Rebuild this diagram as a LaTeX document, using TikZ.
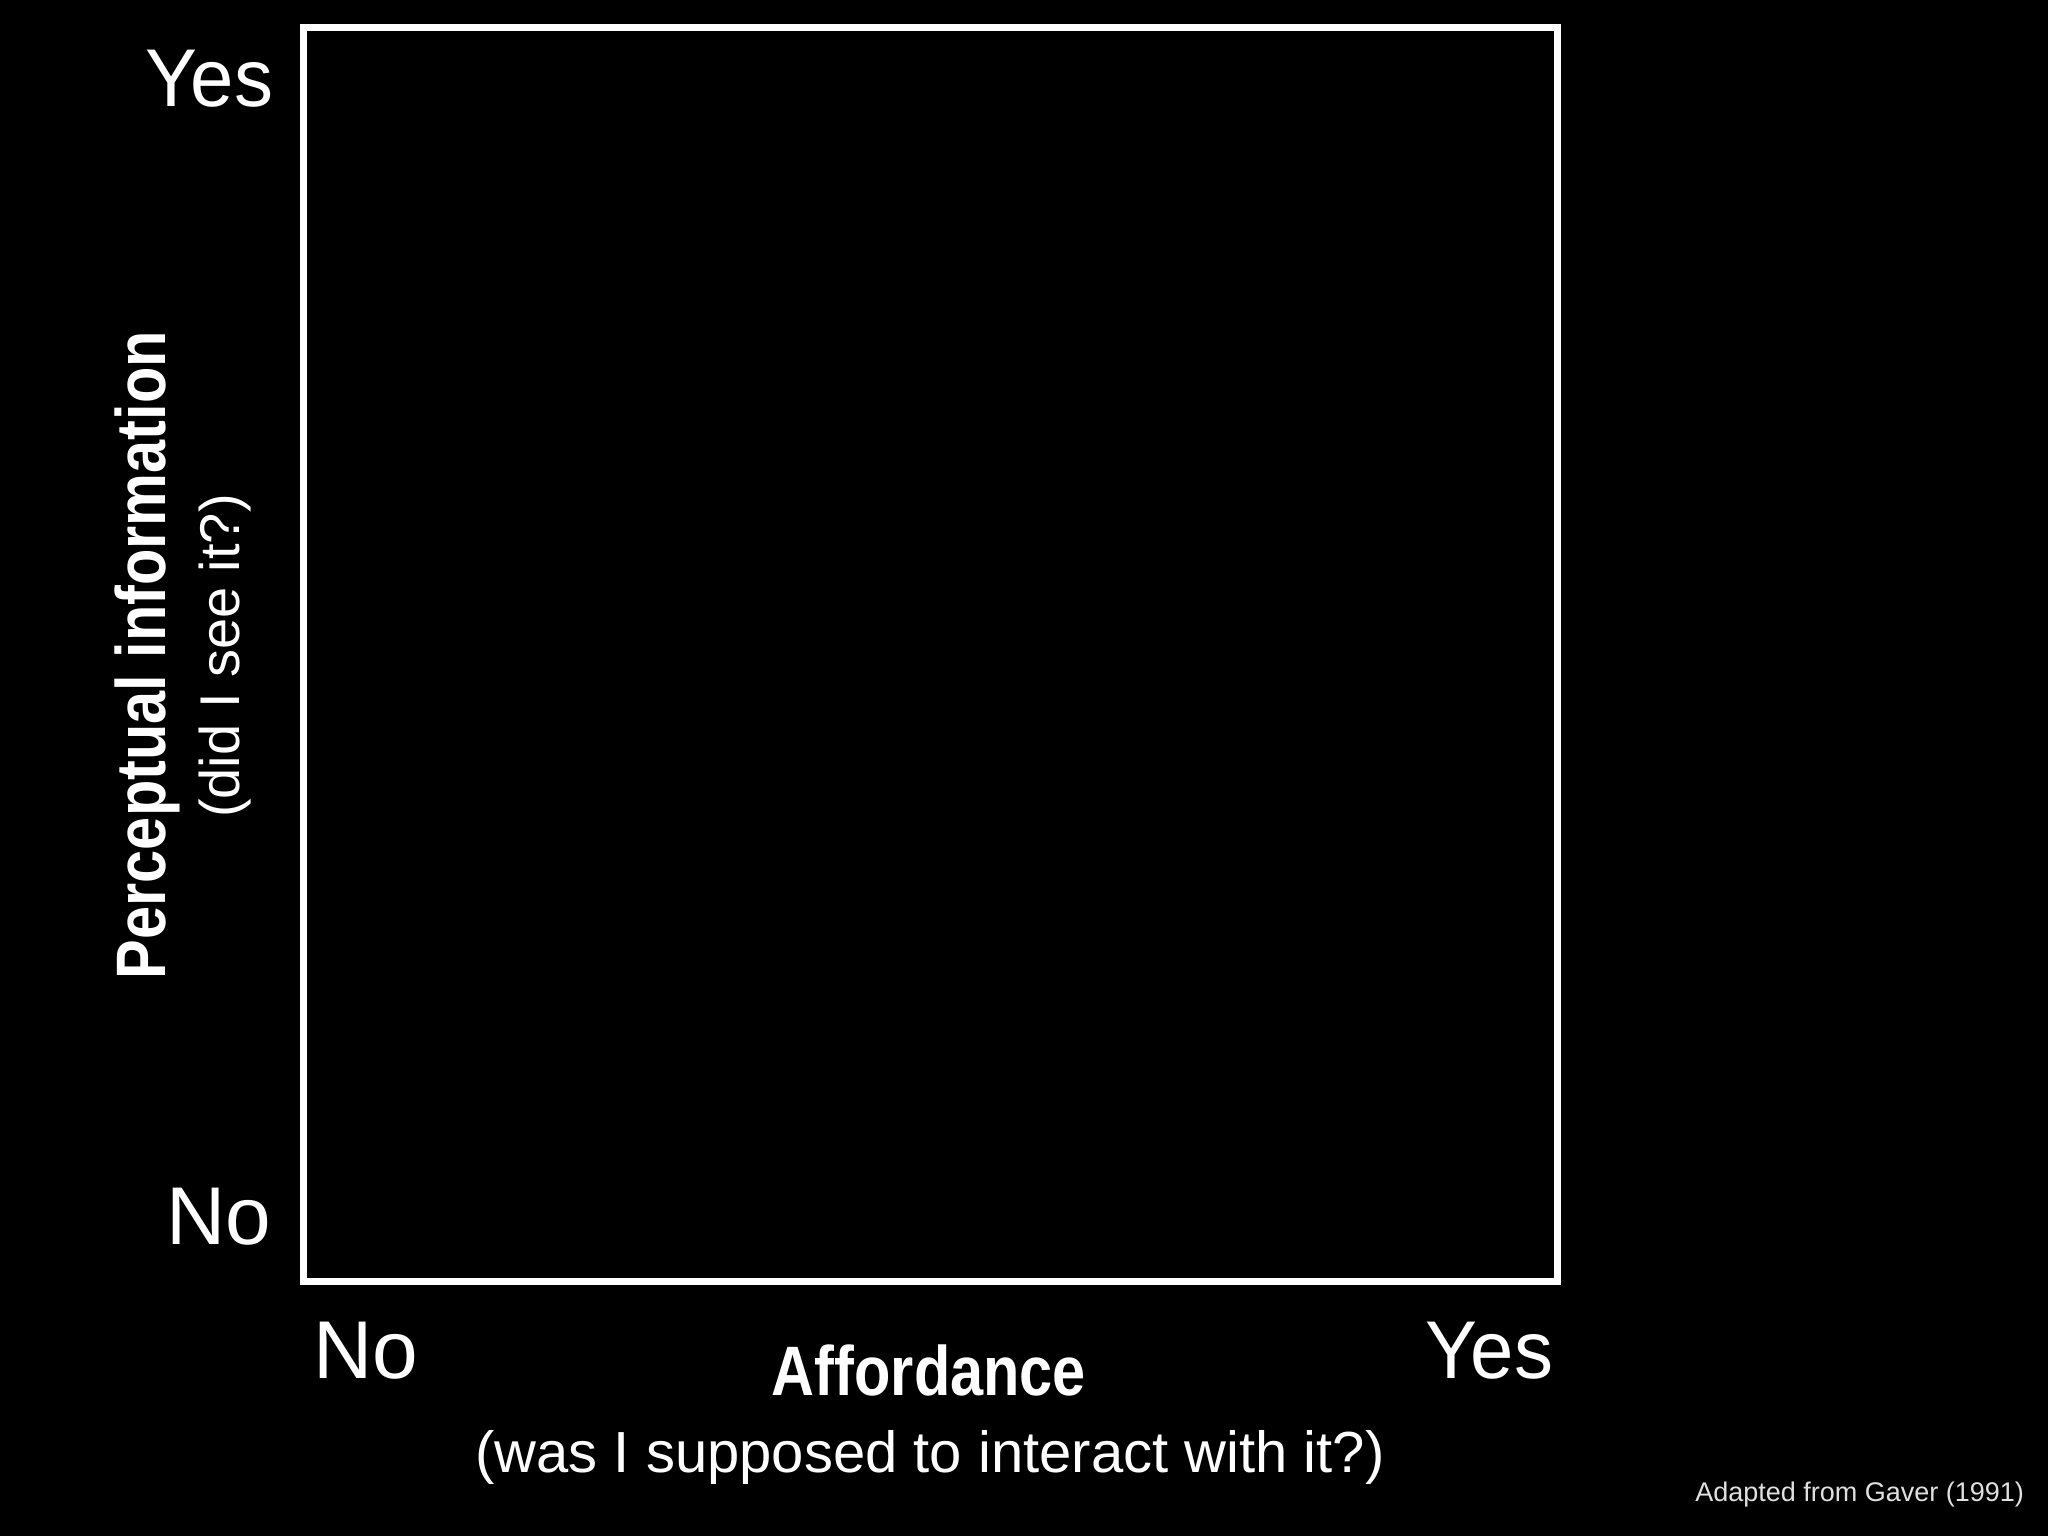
\documentclass[tikz,border=0pt]{standalone}
\usepackage{fontspec}
\setmainfont{Liberation Sans}
\newfontfamily\condfont{Liberation Sans}[FakeStretch=0.85]
\newfontfamily\narrowfont{Liberation Sans}[FakeStretch=0.95]
\tikzset{
  lbl/.style={text=white, inner sep=0pt, outer sep=0pt},
  big/.style={lbl, font=\fontsize{82}{98}\selectfont},
  bigyes/.style={lbl, font=\narrowfont\fontsize{82}{98}\selectfont},
  sub/.style={lbl, font=\fontsize{58}{70}\selectfont},
  vsub/.style={lbl, font=\fontsize{56}{68}\selectfont},
  head/.style={lbl, font=\condfont\bfseries\fontsize{70}{84}\selectfont},
  note/.style={lbl, text=white!88!black, font=\fontsize{27}{32}\selectfont},
  frame/.style={draw=white, line width=7pt, inner sep=0pt, outer sep=0pt}
}
\begin{document}
\begin{tikzpicture}[x=1pt, y=-1pt]
\fill[black] (0,0) rectangle (2048,1536);
\useasboundingbox (0,0) rectangle (2048,1536);
\node[frame, minimum width=1254pt, minimum height=1253.5pt] (box) at (930.5,654.75) {};
\node[bigyes, anchor=base east] (ytop) at (273,107) {Yes};
\node[big, anchor=base east] (ybot) at (271,1244) {No};
\node[big, anchor=base west] (xleft) at (313,1378) {No};
\node[bigyes, anchor=base east] (xright) at (1553,1378) {Yes};
\node[head, anchor=base] (xlab) at (929,1395) {Affordance};
\node[sub, anchor=base] (xsub) at (930,1472) {(was I supposed to interact with it?)};
\node[head, anchor=base, rotate=90] (ylab) at (165,655) {Perceptual information};
\node[vsub, anchor=base, rotate=90] (ysub) at (239,656) {(did I see it?)};
\node[note, anchor=base east] (src) at (2024,1501) {Adapted from Gaver (1991)};
\end{tikzpicture}
\end{document}
